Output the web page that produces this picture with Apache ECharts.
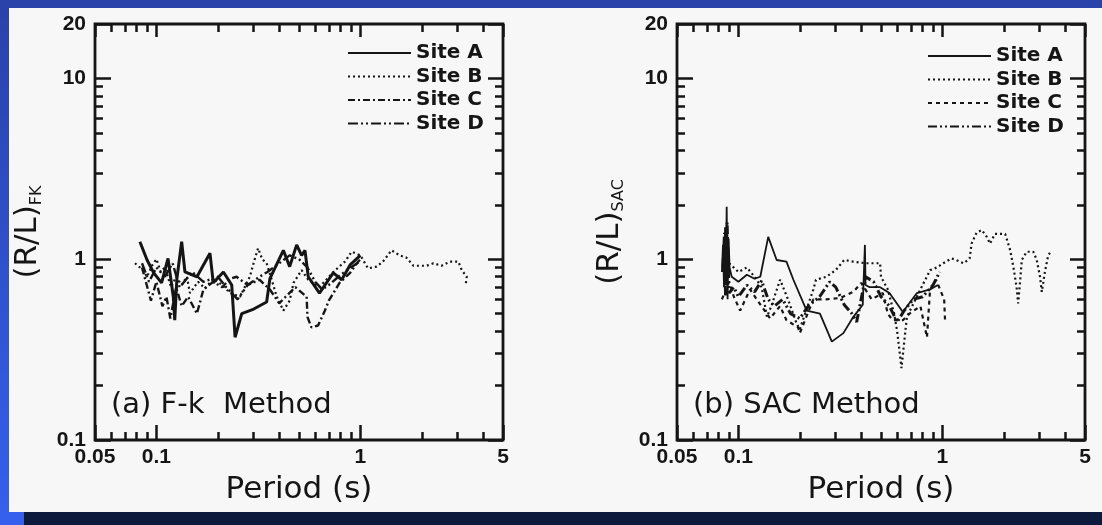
<!DOCTYPE html>
<html><head><meta charset="utf-8">
<script src="https://cdn.jsdelivr.net/npm/echarts@6/dist/echarts.min.js"></script>
<style>html,body{margin:0;padding:0;background:#2a44ae;overflow:hidden}#c{width:1102px;height:525px}</style>
</head><body><div id="c"></div>
<script>
// ---------- data ----------
const siteNames = ['Site A', 'Site B', 'Site C', 'Site D'];
const panelLabels = ['(a) F-k  Method', '(b) SAC Method'];
const yTitleMain = '(R/L)';
const yTitleSubs = ['FK', 'SAC'];
const xTitle = 'Period (s)';
const xRange = [0.05, 5];
const yRange = [0.1, 20];
const xMinorTicks = [0.06, 0.07, 0.08, 0.09, 0.2, 0.3, 0.4, 0.5, 0.6, 0.7, 0.8, 0.9, 2, 3, 4];
const yMinorTicks = [0.2, 0.3, 0.4, 0.5, 0.6, 0.7, 0.8, 0.9, 2, 3, 4, 5, 6, 7, 8, 9];

// (a) F-k method: [period s, R/L]
const fkSiteA = [[0.083,1.25],[0.09,0.99],[0.097,0.84],[0.106,0.74],[0.114,1.01],[0.121,0.62],[0.123,0.46],[0.126,0.78],[0.133,1.25],[0.138,0.85],[0.158,0.80],[0.183,1.08],[0.19,0.74],[0.213,0.85],[0.234,0.72],[0.243,0.37],[0.262,0.50],[0.30,0.53],[0.347,0.58],[0.36,0.78],[0.419,1.12],[0.45,0.91],[0.487,1.20],[0.515,1.05],[0.535,1.12],[0.555,0.80],[0.63,0.65],[0.736,0.84],[0.81,0.77],[0.89,0.93],[1.0,1.05]];
const fkSiteB = [[0.0785,0.95],[0.085,0.88],[0.09,0.80],[0.095,0.92],[0.10,1.0],[0.105,0.85],[0.11,0.90],[0.118,0.70],[0.125,0.80],[0.133,0.72],[0.141,0.80],[0.146,0.65],[0.16,0.75],[0.173,0.69],[0.19,0.78],[0.21,0.72],[0.23,0.65],[0.257,0.62],[0.287,0.80],[0.304,1.01],[0.315,1.15],[0.33,1.0],[0.347,0.95],[0.37,0.75],[0.389,0.62],[0.419,0.52],[0.45,0.59],[0.47,0.74],[0.515,0.87],[0.555,0.77],[0.63,0.70],[0.736,0.85],[0.84,0.97],[0.906,1.10],[1.0,1.05],[1.09,0.89],[1.2,0.91],[1.29,0.97],[1.42,1.12],[1.56,1.05],[1.68,1.02],[1.82,0.92],[2.11,0.92],[2.28,0.95],[2.5,0.92],[2.75,0.97],[3.02,0.97],[3.14,0.87],[3.32,0.80],[3.28,0.72]];
const fkSiteC = [[0.085,0.90],[0.094,0.59],[0.10,0.75],[0.107,0.55],[0.112,0.62],[0.117,0.47],[0.125,0.70],[0.133,0.55],[0.143,0.62],[0.158,0.50],[0.17,0.68],[0.19,0.75],[0.21,0.70],[0.23,0.78],[0.247,0.80],[0.28,0.72],[0.32,0.77],[0.36,0.68],[0.40,0.57],[0.43,0.62],[0.48,0.70],[0.545,0.62],[0.55,0.48],[0.575,0.42],[0.62,0.43],[0.67,0.52],[0.70,0.59],[0.79,0.74],[0.89,0.84],[0.96,0.95],[1.0,1.0]];
const fkSiteD = [[0.085,0.95],[0.092,0.75],[0.10,0.90],[0.11,0.80],[0.12,0.95],[0.13,0.70],[0.15,0.85],[0.17,0.75],[0.20,0.80],[0.22,0.70],[0.25,0.60],[0.28,0.72],[0.32,0.80],[0.35,0.85],[0.40,0.95],[0.45,1.05],[0.50,1.0],[0.55,0.90],[0.60,0.75],[0.65,0.68],[0.70,0.72],[0.80,0.82],[0.90,0.90],[1.0,0.98]];

// (b) SAC method
const sacSiteA = [[0.083,0.85],[0.084,1.2],[0.085,0.7],[0.086,1.5],[0.0868,0.8],[0.0876,1.95],[0.0885,0.6],[0.0895,1.3],[0.0905,0.9],[0.0927,0.80],[0.10,0.75],[0.11,0.82],[0.12,0.78],[0.128,0.80],[0.14,1.33],[0.154,0.99],[0.172,0.97],[0.186,0.77],[0.216,0.52],[0.251,0.50],[0.287,0.35],[0.327,0.39],[0.366,0.48],[0.407,0.56],[0.417,1.2],[0.42,0.72],[0.44,0.70],[0.495,0.70],[0.55,0.65],[0.64,0.51],[0.75,0.65],[0.87,0.68],[0.95,0.72]];
const sacSiteB = [[0.09,0.95],[0.10,0.85],[0.11,0.90],[0.12,0.80],[0.13,0.70],[0.138,0.48],[0.145,0.55],[0.16,0.77],[0.175,0.60],[0.193,0.44],[0.20,0.41],[0.233,0.68],[0.24,0.77],[0.27,0.80],[0.30,0.87],[0.33,0.99],[0.366,0.97],[0.42,0.95],[0.495,0.95],[0.50,0.80],[0.54,0.68],[0.58,0.50],[0.60,0.40],[0.63,0.25],[0.65,0.35],[0.67,0.48],[0.78,0.68],[0.87,0.87],[0.94,0.90],[1.01,0.95],[1.11,1.01],[1.17,0.99],[1.27,0.95],[1.36,1.01],[1.39,1.22],[1.47,1.40],[1.56,1.45],[1.65,1.33],[1.71,1.22],[1.81,1.38],[2.03,1.38],[2.15,1.12],[2.23,0.90],[2.31,0.70],[2.35,0.57],[2.40,0.74],[2.45,0.99],[2.59,1.10],[2.79,1.10],[2.90,0.99],[3.01,0.80],[3.07,0.66],[3.18,0.85],[3.30,1.05],[3.43,1.12]];
const sacSiteC = [[0.083,0.60],[0.09,0.75],[0.095,0.62],[0.102,0.52],[0.114,0.68],[0.123,0.60],[0.143,0.47],[0.16,0.55],[0.172,0.46],[0.196,0.42],[0.20,0.39],[0.233,0.60],[0.27,0.60],[0.315,0.61],[0.366,0.66],[0.40,0.74],[0.45,0.60],[0.51,0.65],[0.54,0.50],[0.57,0.46],[0.64,0.46],[0.69,0.50],[0.78,0.55],[0.84,0.37],[0.87,0.68],[0.93,0.77],[1.02,0.60],[1.03,0.46]];
const sacSiteD = [[0.084,0.90],[0.0855,1.4],[0.0865,0.62],[0.088,1.6],[0.09,0.65],[0.095,0.70],[0.10,0.62],[0.11,0.72],[0.12,0.66],[0.13,0.76],[0.14,0.60],[0.15,0.55],[0.165,0.60],[0.18,0.50],[0.20,0.47],[0.22,0.55],[0.25,0.62],[0.28,0.75],[0.30,0.70],[0.33,0.56],[0.36,0.50],[0.38,0.45],[0.42,0.80],[0.46,0.75],[0.50,0.62],[0.55,0.55],[0.60,0.45],[0.65,0.52],[0.72,0.60],[0.80,0.62],[0.90,0.72],[0.97,0.85]];

const panelData = [[fkSiteA, fkSiteB, fkSiteC, fkSiteD], [sacSiteA, sacSiteB, sacSiteC, sacSiteD]];

// ---------- styles ----------
const INK = '#151515';
const panelStyles = [
  [{w:3,t:'solid'},{w:2.2,t:[2,3]},{w:2.4,t:[7,3,2,3]},{w:2.4,t:[10,3,2,3,2,3]}],
  [{w:1.8,t:'solid'},{w:2.2,t:[2,3]},{w:2.2,t:[4,4]},{w:3,t:[9,3,2,3,2,3]}]
];
const grids = [
  {left: 95, top: 24, width: 408, height: 416},
  {left: 677, top: 24, width: 408, height: 416}
];
const legendPos = [{left: 347, top: 43}, {left: 927, top: 46}];
const yNameGap = [50, 50];

const tickFont = {fontFamily: 'Liberation Sans', fontWeight: 'bold', fontSize: 21, color: INK};
const xAxes = [], yAxes = [], series = [], legends = [], titles = [];

grids.forEach((g, p) => {
  const base = {type: 'log', logBase: 10, gridIndex: p, min: xRange[0], max: xRange[1],
    splitLine: {show: false}, axisLine: {show: false}};
  xAxes.push(Object.assign({}, base, {position: 'bottom',
    axisTick: {inside: true, length: 15, lineStyle: {color: INK, width: 2.5}},
    axisLabel: Object.assign({margin: 7}, tickFont),
    name: xTitle, nameLocation: 'middle', nameGap: 34,
    nameTextStyle: {fontFamily: 'DejaVu Sans', fontSize: 31, color: INK}}));
  xAxes.push(Object.assign({}, base, {position: 'top',
    axisTick: {inside: true, length: 13, lineStyle: {color: INK, width: 2.5}}, axisLabel: {show: false}}));
  xAxes.push(Object.assign({}, base, {position: 'bottom',
    axisTick: {inside: true, length: 8, customValues: xMinorTicks, lineStyle: {color: INK, width: 2.5}},
    axisLabel: {show: false}}));
  xAxes.push(Object.assign({}, base, {position: 'top',
    axisTick: {inside: true, length: 8, customValues: xMinorTicks, lineStyle: {color: INK, width: 2.5}},
    axisLabel: {show: false}}));

  const ybase = {type: 'log', logBase: 10, gridIndex: p, min: yRange[0], max: yRange[1],
    splitLine: {show: false}, axisLine: {show: false}};
  yAxes.push(Object.assign({}, ybase, {position: 'left',
    axisTick: {inside: true, length: 16, lineStyle: {color: INK, width: 2.5}},
    axisLabel: Object.assign({margin: 9}, tickFont),
    name: '{m|' + yTitleMain + '}{s|' + yTitleSubs[p] + '}', nameLocation: 'middle', nameRotate: 90, nameGap: yNameGap[p],
    nameTextStyle: {rich: {
      m: {fontFamily: 'DejaVu Sans', fontSize: 31, color: INK, lineHeight: 34},
      s: {fontFamily: 'DejaVu Sans', fontSize: 16, color: INK, lineHeight: 34, verticalAlign: 'bottom'}
    }}}));
  yAxes.push(Object.assign({}, ybase, {position: 'right',
    axisTick: {inside: true, length: 15, lineStyle: {color: INK, width: 2.5}}, axisLabel: {show: false}}));
  yAxes.push(Object.assign({}, ybase, {position: 'left',
    axisTick: {inside: true, length: 8, customValues: yMinorTicks, lineStyle: {color: INK, width: 2.5}},
    axisLabel: {show: false}}));
  yAxes.push(Object.assign({}, ybase, {position: 'right',
    axisTick: {inside: true, length: 8, customValues: yMinorTicks, lineStyle: {color: INK, width: 2.5}},
    axisLabel: {show: false}}));

  const names = [];
  panelData[p].forEach((d, i) => {
    const nm = (p === 0 ? 'a|' : 'b|') + siteNames[i];
    names.push(nm);
    series.push({type: 'line', name: nm, xAxisIndex: p * 4, yAxisIndex: p * 4, data: d,
      symbol: 'none', showSymbol: false, silent: true, z: 5,
      lineStyle: {color: INK, width: panelStyles[p][i].w, type: panelStyles[p][i].t},
      itemStyle: {color: 'rgba(0,0,0,0)'}});
  });
  legends.push({orient: 'vertical', left: legendPos[p].left, top: legendPos[p].top, data: names,
    itemWidth: 63, itemHeight: 14, itemGap: 3.5, selectedMode: false, padding: 0,
    itemStyle: {color: 'rgba(0,0,0,0)', borderWidth: 0, opacity: 0},
    formatter: n => n.split('|')[1],
    textStyle: {fontFamily: 'DejaVu Sans', fontWeight: 'bold', fontSize: 20, color: INK}});
  titles.push({text: panelLabels[p], left: g.left + 16, top: 391, padding: 0,
    textStyle: {fontFamily: 'DejaVu Sans', fontWeight: 'normal', fontSize: 29, color: INK}});
});

const chart = echarts.init(document.getElementById('c'), null, {renderer: 'canvas'});
chart.setOption({
  animation: false,
  title: titles,
  legend: legends,
  grid: grids.map(g => Object.assign({show: true, borderColor: INK, borderWidth: 2.8, backgroundColor: 'transparent'}, g)),
  xAxis: xAxes,
  yAxis: yAxes,
  series: series,
  graphic: [
    {type: 'rect', z: -10, silent: true, shape: {x: 0, y: 0, width: 1102, height: 525},
      style: {fill: new echarts.graphic.LinearGradient(0, 0, 0, 1, [{offset: 0, color: '#2a42aa'}, {offset: 1, color: '#3560ee'}])}},
    {type: 'rect', z: -9, silent: true, shape: {x: 9, y: 8, width: 1093, height: 504}, style: {fill: '#f7f7f7'}},
    {type: 'rect', z: -9, silent: true, shape: {x: 24, y: 512, width: 1078, height: 13}, style: {fill: '#0e1a3d'}}
  ]
});
</script></body></html>
